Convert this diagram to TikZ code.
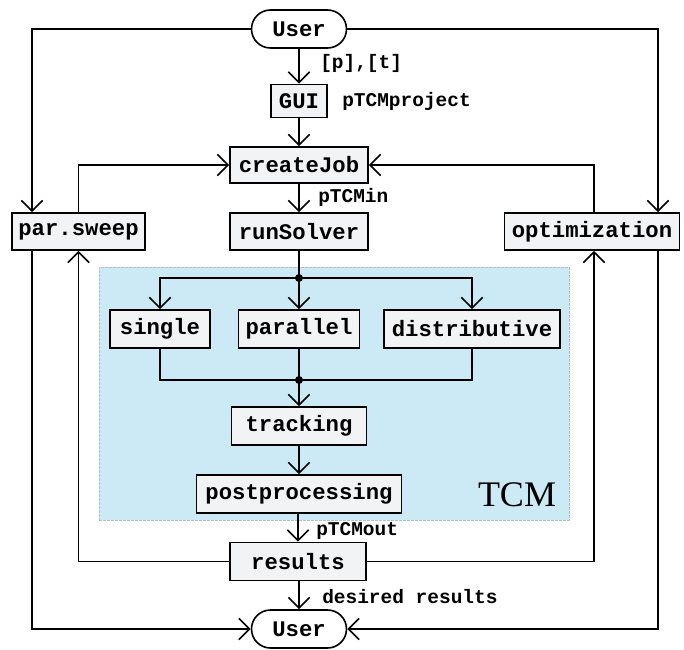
\documentclass[tikz,border=0pt]{standalone}
\usepackage{fontspec}
\setmainfont{Liberation Serif}
\setmonofont{Liberation Mono}
\usetikzlibrary{arrows.meta,shapes.misc}
\definecolor{boxfill}{HTML}{F2F3F4}
\definecolor{tcmbg}{HTML}{CCE9F6}
\definecolor{tcmborder}{HTML}{B8BEC2}
\tikzset{
  conn/.style={line width=1.2pt},
  arr/.style={conn,-{Straight Barb[length=8pt,width=16pt]}},
  box/.style={draw,line width=1.2pt,fill=boxfill,inner sep=0pt,font=\fontsize{16.7}{18}\selectfont\ttfamily\bfseries},
  term/.style={box,fill=white,rounded rectangle,minimum width=71.25pt,minimum height=28.5pt},
  lbl/.style={anchor=west,inner sep=0pt,font=\fontsize{14.6}{16}\selectfont\ttfamily\bfseries},
  dot/.style={circle,fill=black,inner sep=0pt,minimum size=6pt}
}
\begin{document}
\begin{tikzpicture}[x=0.75pt,y=-0.75pt]
\useasboundingbox (0,0) rectangle (684,649);
% TCM background
\node[draw=tcmborder,dashed,dash pattern=on 2pt off 1pt,line width=0.6pt,fill=tcmbg,inner sep=0pt,minimum width=352.5pt,minimum height=189.75pt] (tcm) at (334,393.5) {};
\node[inner sep=0pt,font=\fontsize{27}{30}\selectfont\rmfamily] (tcmlabel) at (517,495) {TCM};
% nodes
\node[term] (userT) at (299,29) {User};
\node[box,minimum width=42pt,minimum height=24.75pt] (gui) at (299,101) {GUI};
\node[box,minimum width=103.5pt,minimum height=27pt] (create) at (299,165) {createJob};
\node[box,minimum width=103.5pt,minimum height=27.75pt] (runs) at (299,231.5) {runSolver};
\node[box,minimum width=99.75pt,minimum height=27.75pt] (par) at (78.5,231.5) {par.sweep};
\node[box,minimum width=131.25pt,minimum height=27.75pt] (opt) at (592,231.5) {optimization};
\node[box,minimum width=75pt,minimum height=28.5pt] (single) at (160,329) {single};
\node[box,minimum width=90.75pt,minimum height=28.5pt] (parallel) at (299,329) {parallel};
\node[box,minimum width=132pt,minimum height=28.5pt] (distrib) at (472,329) {distributive};
\node[box,minimum width=101.25pt,minimum height=28.5pt] (track) at (299,426) {tracking};
\node[box,minimum width=153.75pt,minimum height=28.5pt] (post) at (299,494) {postprocessing};
\node[box,minimum width=102pt,minimum height=28.5pt] (results) at (298,561.5) {results};
\node[term] (userB) at (299,629) {User};
\node[dot] (d1) at (299,278) {};
\node[dot] (d2) at (299,380) {};
\coordinate (pl) at (32,0);
\coordinate (pr) at (658,0);
\coordinate (pc) at (78.5,0);
\coordinate (oc) at (594,0);
% labels
\node[lbl] (l1) at (320,63) {[p],[t]};
\node[lbl] (l2) at (342,101) {pTCMproject};
\node[lbl] (l3) at (318,197) {pTCMin};
\node[lbl] (l4) at (316,531) {pTCMout};
\node[lbl] (l5) at (322,597) {desired results};
% connectors
\draw[arr] (userT.west) -| (pl |- par.north);
\draw[arr] (userT.east) -| (pr |- opt.north);
\draw[arr] (userT.south) -- (gui.north);
\draw[arr] (gui.south) -- (create.north);
\draw[arr] (create.south) -- (runs.north);
\draw[arr] (pc |- par.north) |- (create.west);
\draw[arr] (oc |- opt.north) |- (create.east);
\draw[conn] (runs.south) -- (d1.center);
\draw[arr] (d1.center) -| (single.north);
\draw[arr] (d1.center) -- (parallel.north);
\draw[arr] (d1.center) -| (distrib.north);
\draw[conn] (single.south) |- (d2.center);
\draw[conn] (parallel.south) -- (d2.center);
\draw[conn] (distrib.south) |- (d2.center);
\draw[arr] (d2.center) -- (track.north);
\draw[arr] (track.south) -- (post.north);
\draw[arr] (post.south -| results.north) -- (results.north);
\draw[arr] (results.west) -| (pc |- par.south);
\draw[arr] (results.east) -| (oc |- opt.south);
\draw[arr] (results.south -| userB.north) -- (userB.north);
\draw[arr] (pl |- par.south) |- (userB.west);
\draw[arr] (pr |- opt.south) |- (userB.east);
\end{tikzpicture}
\end{document}
